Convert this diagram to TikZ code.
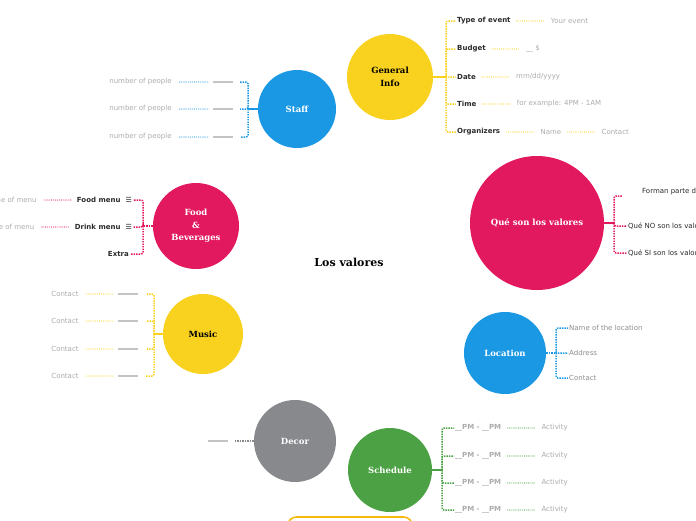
\documentclass[tikz,border=0pt]{standalone}
\usepackage{fontspec}
\setmainfont{DejaVu Sans}
\newfontfamily\slabfont{DejaVu Serif}
\usepackage{tikz}
\usetikzlibrary{positioning}
\definecolor{MapYellow}{HTML}{F9D21F}
\definecolor{MapBlue}{HTML}{1B98E4}
\definecolor{MapPink}{HTML}{E2195E}
\definecolor{MapGreen}{HTML}{4BA143}
\definecolor{MapGray}{HTML}{88898D}
\definecolor{MapOrange}{HTML}{F6B90C}
\definecolor{LeafGray}{HTML}{ABABAB}
\definecolor{LeafDark}{HTML}{2A2A2A}
\definecolor{BlankGray}{HTML}{C4C4C4}

\begin{document}
\begin{tikzpicture}[x=1pt, y=-1pt,
  topic/.style={circle, fill=#1, inner sep=0pt, text=white, align=center, font=\slabfont\bfseries\fontsize{8.5}{12.5}\selectfont},
  leaf/.style={inner sep=1pt, text=LeafGray, font=\fontsize{7}{8}\selectfont},
  keyleaf/.style={inner sep=1pt, text=LeafDark, font=\bfseries\fontsize{7}{8}\selectfont},
  blankline/.style={fill=BlankGray, inner sep=0pt, minimum width=20pt, minimum height=1.1pt},
  trunk/.style={draw=#1, line width=2.2pt},
  branch/.style={draw=#1, line width=1.5pt, dash pattern=on 1.4pt off 1.1pt, rounded corners=2pt},
  link/.style={draw=#1, line width=1.1pt, line cap=round, dash pattern=on 0pt off 1.9pt, shorten <=5pt, shorten >=5pt}]
\useasboundingbox (0,0) rectangle (696,520);

\node[font=\slabfont\bfseries\fontsize{11}{13}\selectfont, inner sep=1pt] (title) at (349,262) {Los valores};

\node[topic=MapYellow, minimum size=86pt, text=black] (gen) at (390,77) {General\\Info};
\coordinate (genj) at (446,77);
\draw[trunk=MapYellow] (gen.east) -- (genj);
\node[keyleaf, anchor=west] (type) at (456,21) {Type of event};
\node[keyleaf, anchor=west] (budget) at (456,49) {Budget};
\node[keyleaf, anchor=west] (date) at (456,77) {Date};
\node[keyleaf, anchor=west] (time) at (456,104) {Time};
\node[keyleaf, anchor=west] (orgs) at (456,132) {Organizers};
\foreach \n in {type,budget,date,time,orgs}
  \draw[branch=MapYellow] (genj) |- (\n.west);
\node[leaf, right=38pt of type] (typev) {Your event};
\node[leaf, right=38pt of budget] (budgetv) {\_\_ \$};
\node[leaf, right=38pt of date] (datev) {mm/dd/yyyy};
\node[leaf, right=38pt of time] (timev) {for example: 4PM - 1AM};
\node[leaf, right=38pt of orgs] (orgsn) {Name};
\node[leaf, right=38pt of orgsn] (orgsc) {Contact};
\draw[link=MapYellow] (type) -- (typev);
\draw[link=MapYellow] (budget) -- (budgetv);
\draw[link=MapYellow] (date) -- (datev);
\draw[link=MapYellow] (time) -- (timev);
\draw[link=MapYellow] (orgs) -- (orgsn);
\draw[link=MapYellow] (orgsn) -- (orgsc);

\node[topic=MapBlue, minimum size=78pt] (staff) at (297,109) {Staff};
\coordinate (staffj) at (248,109);
\draw[trunk=MapBlue] (staff.west) -- (staffj);
\foreach \i/\y in {1/82,2/109,3/137} {
  \node[blankline] (staffb\i) at (223,\y) {};
  \node[leaf, left=40pt of staffb\i] (staffn\i) {number of people};
  \draw[branch=MapBlue] (staffj) |- ([xshift=7pt]staffb\i.east);
  \draw[link=MapBlue] (staffb\i) -- (staffn\i);
}

\node[topic=MapPink, minimum size=86pt] (food) at (196,226) {Food\\\&\\Beverages};
\coordinate (foodj) at (143,226);
\draw[branch=MapPink] (food.west) -- (foodj);
\node[keyleaf, anchor=east] (foodm) at (133,200) {Food menu\hspace{5pt}☰};
\node[keyleaf, anchor=east] (drinkm) at (133,227) {Drink menu\hspace{5pt}☰};
\node[keyleaf, anchor=east] (extra) at (130,254) {Extra};
\foreach \n in {foodm,drinkm,extra}
  \draw[branch=MapPink] (foodj) |- (\n.east);
\node[leaf, left=38pt of foodm] (foodmn) {Name of menu};
\node[leaf, left=38pt of drinkm] (drinkmn) {Name of menu};
\draw[link=MapPink] (foodm) -- (foodmn);
\draw[link=MapPink] (drinkm) -- (drinkmn);

\node[topic=MapPink, minimum size=134pt] (que) at (537,223) {Qué son los valores};
\coordinate (quej) at (614,223);
\draw[trunk=MapPink] (que.east) -- (quej);
\node[leaf, anchor=west, text=LeafDark] (forman) at (641,192) {Forman parte de los valores};
\node[leaf, anchor=west, text=LeafDark] (queno) at (627,226) {Qué NO son los valores};
\node[leaf, anchor=west, text=LeafDark] (quesi) at (627,253) {Qué SI son los valores};
\coordinate (formanend) at (622,196);
\draw[branch=MapPink] (quej) |- (formanend);
\draw[branch=MapPink] (quej) |- (queno.west);
\draw[branch=MapPink] (quej) |- (quesi.west);

\node[topic=MapYellow, minimum size=80pt, text=black] (music) at (203,334) {Music};
\coordinate (musicj) at (154,334);
\draw[trunk=MapYellow] (music.west) -- (musicj);
\foreach \i/\y in {1/294,2/321,3/349,4/376} {
  \node[blankline] (musicb\i) at (128,\y) {};
  \node[leaf, left=38pt of musicb\i] (musicc\i) {Contact};
  \draw[branch=MapYellow] (musicj) |- ([xshift=8pt]musicb\i.east);
  \draw[link=MapYellow] (musicb\i) -- (musicc\i);
}

\node[topic=MapBlue, minimum size=82pt] (loc) at (505,353) {Location};
\coordinate (locj) at (556,353);
\draw[branch=MapBlue] (loc.east) -- (locj);
\node[leaf, anchor=west, text=gray!90] (locname) at (568,328) {Name of the location};
\node[leaf, anchor=west, text=gray!90] (locaddr) at (568,353) {Address};
\node[leaf, anchor=west, text=gray!90] (loccont) at (568,378) {Contact};
\foreach \n in {locname,locaddr,loccont}
  \draw[branch=MapBlue] (locj) |- (\n.west);

\node[topic=MapGray, minimum size=82pt] (decor) at (295,441) {Decor};
\node[blankline] (decorb) at (218,441) {};
\draw[branch=MapGray] (decor.west) -- ([xshift=7pt]decorb.east);

\node[topic=MapGreen, minimum size=84pt] (sched) at (390,470) {Schedule};
\coordinate (schedj) at (442,470);
\draw[trunk=MapGreen] (sched.east) -- (schedj);
\foreach \i/\y in {1/428,2/456,3/483,4/510} {
  \node[keyleaf, anchor=west, text=LeafGray] (time\i) at (454,\y) {\_\_PM - \_\_PM};
  \node[leaf, right=38pt of time\i] (act\i) {Activity};
  \draw[branch=MapGreen] (schedj) |- (time\i.west);
  \draw[link=MapGreen] (time\i) -- (act\i);
}

\node[draw=MapOrange, line width=1.6pt, rounded corners=9pt, minimum width=125pt, minimum height=30pt] (next) at (350,532) {};
\end{tikzpicture}
\end{document}
